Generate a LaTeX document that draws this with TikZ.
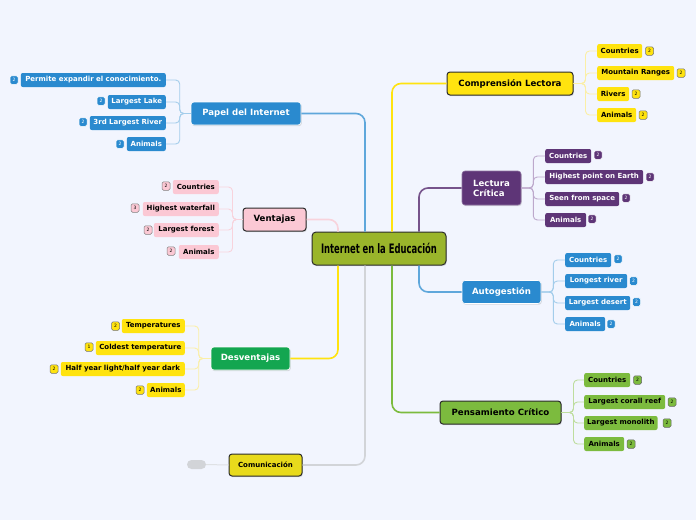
\documentclass[tikz,border=0pt]{standalone}
\usepackage{fontspec}
\setmainfont{DejaVu Sans}
\newfontfamily\condfont{DejaVu Sans Condensed}
\usetikzlibrary{shadows}
\definecolor{bg}{HTML}{F2F5FE}
\definecolor{olive}{HTML}{9AB52B}
\definecolor{ylw}{HTML}{FFE30F}
\definecolor{ylwline}{HTML}{FDE95A}
\definecolor{ylwlight}{HTML}{FBEFA6}
\definecolor{purp}{HTML}{5E3577}
\definecolor{purplight}{HTML}{BDA8CC}
\definecolor{blu}{HTML}{2A8ACF}
\definecolor{blulight}{HTML}{A3CDEB}
\definecolor{grn}{HTML}{7CBB3E}
\definecolor{grnlight}{HTML}{BEDD9E}
\definecolor{pnk}{HTML}{FBC8D4}
\definecolor{pnkline}{HTML}{F8D3DC}
\definecolor{dgrn}{HTML}{13A650}
\definecolor{comy}{HTML}{E8DA1C}
\definecolor{gry}{HTML}{D2D4D8}
\definecolor{bord}{HTML}{2B2B2B}
\tikzset{
  sub/.style={rounded corners=2pt, minimum height=14pt, inner sep=0pt, inner xsep=3pt,
    font=\fontsize{7}{8}\selectfont\bfseries},
  badge/.style={rounded corners=1.5pt, minimum width=8pt, minimum height=8.5pt, inner sep=0pt,
    draw, line width=0.5pt, font=\fontsize{4.5}{5}\selectfont},
  branch/.style={rounded corners=3pt, minimum height=23pt, inner sep=0pt,
    font=\fontsize{8.6}{10}\selectfont\bfseries,
    drop shadow={opacity=0.25, shadow xshift=0.8pt, shadow yshift=-1.2pt}},
  mainline/.style={line width=1.6pt, rounded corners=9pt},
  subline/.style={line width=0.9pt, rounded corners=4pt},
}
\begin{document}
\begin{tikzpicture}[x=1pt,y=-1pt]
\fill[bg] (0,0) rectangle (696,520);
\useasboundingbox (0,0) rectangle (696,520);

% central
\node[rounded corners=4pt, fill=olive, draw=bord, line width=1pt, minimum width=134pt, minimum height=33pt,
  inner sep=0pt, font=\condfont\fontsize{13}{14}\selectfont\bfseries,
  drop shadow={opacity=0.25, shadow xshift=0.8pt, shadow yshift=-1.2pt}] (c) at (379,248.5) {\scalebox{0.72}[1]{Internet en la Educación}};

% branches
\node[branch, fill=ylw, draw=bord, line width=1pt, minimum width=126pt] (comp) at (510,83.5) {Comprensión Lectora};
\node[branch, fill=purp, draw=purp!70!white, line width=0.6pt, text=white, minimum width=59pt, minimum height=34pt,
  align=left] (lect) at (491.5,188) {Lectura\\Crítica};
\node[branch, fill=blu, draw=white, line width=0.6pt, text=white, minimum width=79pt] (auto) at (501.5,292) {Autogestión};
\node[branch, fill=grn, draw=bord, line width=1pt, minimum width=121pt] (pens) at (500.5,412.5) {Pensamiento Crítico};
\node[branch, fill=blu, draw=white, line width=0.6pt, text=white, minimum width=110pt] (pap) at (246,113.5) {Papel del Internet};
\node[branch, fill=pnk, draw=bord, line width=1pt, minimum width=63pt] (vent) at (274.5,219.5) {Ventajas};
\node[branch, fill=dgrn, draw=white, line width=0.6pt, text=white, minimum width=79pt] (desv) at (250.5,358.5) {Desventajas};
\node[branch, fill=comy, draw=bord, line width=1pt, minimum width=73pt, minimum height=22pt,
  font=\fontsize{7}{8}\selectfont\bfseries] (comu) at (265.5,465) {Comunicación};
\node[rounded corners=4.5pt, fill=gry, minimum width=19pt, minimum height=9pt, inner sep=0pt] (pill) at (196.5,464.5) {};

% main connectors
\draw[mainline, blu!75!white] ([xshift=-14pt]c.north) |- (pap.east);
\draw[mainline, ylw] ([xshift=13pt]c.north) |- (comp.west);
\draw[mainline, purp!85!white] ([xshift=40pt]c.north) |- (lect.west);
\draw[mainline, pnkline] ([xshift=-41pt]c.north) |- (vent.east);
\draw[mainline, ylw] ([xshift=-41pt]c.south) |- (desv.east);
\draw[mainline, gry] ([xshift=-14pt]c.south) |- (comu.east);
\draw[mainline, grn] ([xshift=13pt]c.south) |- (pens.west);
\draw[mainline, blu!75!white] ([xshift=40pt]c.south) |- (auto.west);
\draw[line width=1pt, gry!70!white] (comu.west) -- (pill.east);

% Comprension Lectora children
\node[sub, fill=ylw, anchor=west, minimum width=45pt] (c1) at (597,51) {Countries};
\node[sub, fill=ylw, anchor=west, minimum width=77pt] (c2) at (597,73) {Mountain Ranges};
\node[sub, fill=ylw, anchor=west, minimum width=32pt] (c3) at (597,94) {Rivers};
\node[sub, fill=ylw, anchor=west, minimum width=39pt] (c4) at (597,115) {Animals};
\foreach \n in {c1,c2,c3,c4}{\draw[subline, ylwlight] (comp.east) -- ([xshift=12pt]comp.east) |- (\n.west);}
\node[badge, fill=ylw, draw=black!55] (bc1) at (649.5,51) {2};
\node[badge, fill=ylw, draw=black!55] (bc2) at (681,73) {2};
\node[badge, fill=ylw, draw=black!55] (bc3) at (636,94) {2};
\node[badge, fill=ylw, draw=black!55] (bc4) at (643,115) {2};

% Lectura Critica children
\node[sub, fill=purp, text=white, anchor=west, minimum width=46pt] (l1) at (545,156) {Countries};
\node[sub, fill=purp, text=white, anchor=west, minimum width=98pt] (l2) at (545,177) {Highest point on Earth};
\node[sub, fill=purp, text=white, anchor=west, minimum width=74pt] (l3) at (545,199) {Seen from space};
\node[sub, fill=purp, text=white, anchor=west, minimum width=41pt] (l4) at (545,220) {Animals};
\foreach \n in {l1,l2,l3,l4}{\draw[subline, purplight] (lect.east) -- ([xshift=12pt]lect.east) |- (\n.west);}
\node[badge, fill=purp, draw=white, text=white] (bl1) at (598,155) {2};
\node[badge, fill=purp, draw=white, text=white] (bl2) at (650,177) {2};
\node[badge, fill=purp, draw=white, text=white] (bl3) at (626,198) {2};
\node[badge, fill=purp, draw=white, text=white] (bl4) at (592,219) {2};

% Autogestion children
\node[sub, fill=blu, text=white, anchor=west, minimum width=46pt] (a1) at (565,260) {Countries};
\node[sub, fill=blu, text=white, anchor=west, minimum width=62pt] (a2) at (565,281) {Longest river};
\node[sub, fill=blu, text=white, anchor=west, minimum width=65pt] (a3) at (565,303) {Largest desert};
\node[sub, fill=blu, text=white, anchor=west, minimum width=40pt] (a4) at (565,324) {Animals};
\foreach \n in {a1,a2,a3,a4}{\draw[subline, blulight] (auto.east) -- ([xshift=12pt]auto.east) |- (\n.west);}
\node[badge, fill=blu, draw=white, text=white] (ba1) at (618,259) {2};
\node[badge, fill=blu, draw=white, text=white] (ba2) at (633.5,281) {2};
\node[badge, fill=blu, draw=white, text=white] (ba3) at (636.5,302) {2};
\node[badge, fill=blu, draw=white, text=white] (ba4) at (611,324) {2};

% Pensamiento Critico children
\node[sub, fill=grn, anchor=west, minimum width=46pt] (p1) at (584,380) {Countries};
\node[sub, fill=grn, anchor=west, minimum width=81pt] (p2) at (584,402) {Largest corall reef};
\node[sub, fill=grn, anchor=west, minimum width=73pt] (p3) at (584,423) {Largest monolith};
\node[sub, fill=grn, anchor=west, minimum width=40pt] (p4) at (584,444) {Animals};
\foreach \n in {p1,p2,p3,p4}{\draw[subline, grnlight] (pens.east) -- ([xshift=12pt]pens.east) |- (\n.west);}
\node[badge, fill=grn, draw=black!60] (bp1) at (637.5,380) {2};
\node[badge, fill=grn, draw=black!60] (bp2) at (672,402) {2};
\node[badge, fill=grn, draw=black!60] (bp3) at (667,423) {2};
\node[badge, fill=grn, draw=black!60] (bp4) at (631,444) {2};

% Papel del Internet children
\node[sub, fill=blu, text=white, anchor=east, minimum width=145pt] (i1) at (166,80) {Permite expandir el conocimiento.};
\node[sub, fill=blu, text=white, anchor=east, minimum width=58pt] (i2) at (166,102) {Largest Lake};
\node[sub, fill=blu, text=white, anchor=east, minimum width=76pt] (i3) at (166,123) {3rd Largest River};
\node[sub, fill=blu, text=white, anchor=east, minimum width=39pt] (i4) at (166,144) {Animals};
\foreach \n in {i1,i2,i3,i4}{\draw[subline, blulight] (pap.west) -- ([xshift=-11pt]pap.west) |- (\n.east);}
\node[badge, fill=blu, draw=white, text=white] (bi1) at (14,80) {2};
\node[badge, fill=blu, draw=white, text=white] (bi2) at (101,101) {2};
\node[badge, fill=blu, draw=white, text=white] (bi3) at (83,122) {2};
\node[badge, fill=blu, draw=white, text=white] (bi4) at (120,144) {2};

% Ventajas children
\node[sub, fill=pnk, anchor=east, minimum width=46pt] (v1) at (219,187) {Countries};
\node[sub, fill=pnk, anchor=east, minimum width=76pt] (v2) at (219,209) {Highest waterfall};
\node[sub, fill=pnk, anchor=east, minimum width=65pt] (v3) at (219,230) {Largest forest};
\node[sub, fill=pnk, anchor=east, minimum width=40pt] (v4) at (219,252) {Animals};
\foreach \n in {v1,v2,v3,v4}{\draw[subline, pnkline] (vent.west) -- ([xshift=-10pt]vent.west) |- (\n.east);}
\node[badge, fill=pnk, draw=black!50] (bv1) at (166,186) {2};
\node[badge, fill=pnk, draw=black!50] (bv2) at (135,208) {3};
\node[badge, fill=pnk, draw=black!50] (bv3) at (148,230) {2};
\node[badge, fill=pnk, draw=black!50] (bv4) at (171,251) {2};

% Desventajas children
\node[sub, fill=ylw, anchor=east, minimum width=63pt] (d1) at (185,326) {Temperatures};
\node[sub, fill=ylw, anchor=east, minimum width=89pt] (d2) at (185,348) {Coldest temperature};
\node[sub, fill=ylw, anchor=east, minimum width=124pt] (d3) at (185,369) {Half year light/half year dark};
\node[sub, fill=ylw, anchor=east, minimum width=38pt] (d4) at (185,390) {Animals};
\foreach \n in {d1,d2,d3,d4}{\draw[subline, ylwlight] (desv.west) -- ([xshift=-12pt]desv.west) |- (\n.east);}
\node[badge, fill=ylw, draw=black!55] (bd1) at (115.5,326) {2};
\node[badge, fill=ylw, draw=black!55] (bd2) at (89,347) {1};
\node[badge, fill=ylw, draw=black!55] (bd3) at (54,369) {2};
\node[badge, fill=ylw, draw=black!55] (bd4) at (140,390) {2};
\end{tikzpicture}
\end{document}
